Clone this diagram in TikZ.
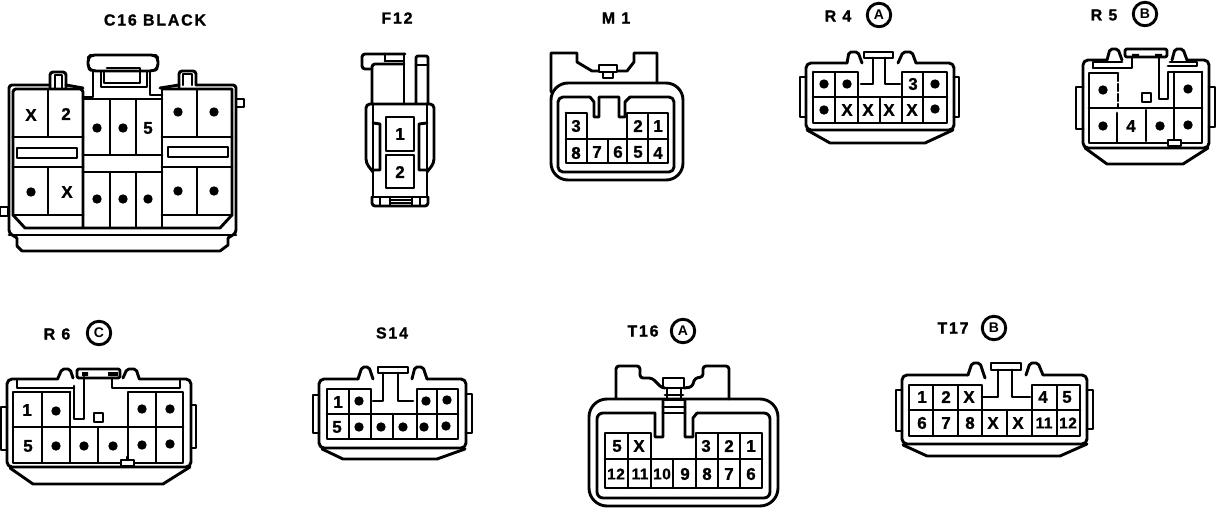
\documentclass[tikz,border=0pt]{standalone}
\usepackage{fontspec}
\setmainfont{Liberation Sans}
\newfontfamily\pinfont[LetterSpace=3,FakeBold=1]{Liberation Sans Bold}
\newfontfamily\titlefont[LetterSpace=11,FakeBold=1.2]{Liberation Sans Bold}
\newcounter{tx}
\tikzset{
  ln/.style={line width=2.9pt,line join=round,line cap=round,black},
  thin ln/.style={line width=2.2pt,line join=round,line cap=round,black},
  pintext/.style={inner sep=0pt,font=\pinfont\fontsize{17}{17}\selectfont},
  pinsmall/.style={inner sep=0pt,font=\pinfont\fontsize{15.5}{15.5}\selectfont},
  titletext/.style={inner sep=0pt,font=\titlefont\fontsize{16}{16}\selectfont},
  badge/.style={circle,draw,line width=2.9pt,minimum size=23.5pt,inner sep=0pt,font=\fontsize{14}{14}\bfseries\selectfont}
}
\newcommand{\pins}[1]{\foreach \x/\y/\t in {#1}{\stepcounter{tx}\node[pintext] (p\thetx) at (\x,\y) {\t};}}
\newcommand{\tpins}[1]{\foreach \x/\y/\t in {#1}{\stepcounter{tx}\node[pinsmall] (p\thetx) at (\x,\y) {\t};}}
\newcommand{\pts}[1]{\foreach \x/\y in {#1}{\fill (\x,\y) circle (4.7pt);}}
\begin{document}
\begin{tikzpicture}[x=1pt,y=-1pt]
\useasboundingbox (0,0) rectangle (1216,508);
\begin{scope}[ln]
% ---------- C16
\node[titletext] (tc16) at (155,20) {C16 BLACK};
\draw[rounded corners=3pt] (17,238) -- (9,233) -- (9,85) -- (50,85);
\draw[rounded corners=3pt] (50,88) -- (50,72) -- (66,72) -- (66,88);
\draw[thin ln] (55,88) -- (55,75) -- (62,75) -- (62,88);
\draw (66,85) -- (83,88);
\draw[rounded corners=3pt] (13,137) -- (13,89) -- (83,89) -- (83,227);
\draw (13,137) -- (13,215) -- (25,228) -- (220,228) -- (232,215) -- (232,89) -- (162,89);
\draw (162,89) -- (162,227);
\draw (160,88) -- (179,85);
\draw[rounded corners=3pt] (179,88) -- (179,71) -- (196,71) -- (196,85);
\draw[thin ln] (183,85) -- (183,74) -- (192,74) -- (192,85);
\draw[rounded corners=3pt] (196,85) -- (236,85) -- (236,233) -- (228,238);
\draw (13,137) -- (83,137) (13,167) -- (83,167) (13,215) -- (83,215);
\draw (162,137) -- (232,137) (162,167) -- (232,167) (162,215) -- (232,215);
\draw (17,148) rectangle (77,158);
\draw (168,147) rectangle (228,157);
\draw[thin ln] (48,89) -- (48,137) (48,167) -- (48,215) (197,89) -- (197,137) (197,167) -- (197,215);
\draw (83,99) -- (162,99) (83,155) -- (162,155) (83,172) -- (162,172);
\draw[thin ln] (110,99) -- (110,155) (136,99) -- (136,155) (110,172) -- (110,227) (136,172) -- (136,227);
\draw (9,235) -- (236,235);
\draw (17,238) -- (17,246) -- (22,251) -- (220,251) -- (228,245) -- (228,238);
\draw[rounded corners=4pt] (92,71) -- (88,68) -- (88,58) -- (91,55) -- (155,55) -- (158,58) -- (158,68) -- (154,71) -- cycle;
\draw (93,71) -- (93,97) -- (83,97);
\draw (150,71) -- (150,95) -- (162,95);
\draw (104,71) -- (104,83) -- (140,83) -- (140,68) -- (107,68);
\draw[thin ln] (101,71) -- (101,87) -- (147,87) -- (147,71);
\draw (236,99) rectangle (244,107);
\draw (0,207) rectangle (8,216);
\pts{97/128,123/128,178/112,214/112,31/192,97/199,123/199,148/199,178/191,214/191}
\pins{31/115/X,66/114/2,148/128/5,67/192/X}
% ---------- F12
\node[titletext] (tf12) at (397,18) {F12};
\draw[rounded corners=3pt] (405,54) -- (362,54) -- (362,69) -- (372,69);
\draw (385,61) -- (403,61);
\draw (385,54) -- (385,61);
\draw[rounded corners=3pt] (372,104) -- (372,64) -- (404,64);
\draw (404,54) -- (404,104);
\draw[rounded corners=2pt] (416,104) -- (416,56) -- (428,56) -- (428,104);
\draw (416,65) -- (428,65);
\draw[rounded corners=4pt] (373,172) -- (366,163) -- (366,104) -- (434,104) -- (434,163) -- (427,172);
\draw (373,104) -- (373,197);
\draw (427,104) -- (427,197);
\draw (373,123) -- (380,124) -- (380,170) -- (373,170);
\draw (427,123) -- (419,124) -- (419,170) -- (427,170);
\draw (386,117) rectangle (414,151);
\draw (386,155) rectangle (414,188);
\draw (372,197) -- (428,197);
\draw[rounded corners=3pt] (372,197) -- (372,206) -- (428,206) -- (428,197);
\draw[thin ln] (380,197) -- (380,206) (390,197) -- (390,206) (412,197) -- (412,206) (420,197) -- (420,206) (390,200) -- (412,200) (390,203) -- (412,203);
\pins{400/134/1,400/172/2}
% ---------- M1
\node[titletext] (tm1) at (616,18) {M 1};
\draw[rounded corners=17pt] (551,83) rectangle (683,180);
\draw (551,92) -- (551,53) -- (577,53) -- (577,62) -- (592,71) -- (599,71);
\draw (618,71) -- (627,71) -- (634,62) -- (634,53) -- (657,53) -- (657,83);
\draw (599,65) rectangle (617,72);
\draw[thin ln] (603,72) -- (603,78) -- (613,78) -- (613,72);
\draw[rounded corners=5pt] (590,97) -- (558,97) -- (558,172) -- (674,172) -- (674,97) -- (630,97);
\draw (590,97) -- (594,102) -- (594,117) -- (599,117) -- (599,97) -- (619,97) -- (619,117) -- (625,117) -- (625,102) -- (630,97);
\draw (566,113) -- (587,113) -- (587,139);
\draw (566,113) -- (566,163) -- (668,163) -- (668,113) -- (627,113) -- (627,163);
\draw (566,139) -- (668,139);
\draw[thin ln] (648,113) -- (648,163) (587,139) -- (587,163) (608,139) -- (608,163);
\pins{576/126/3,638/126/2,658/126/1,576/153/8,597/152/7,618/152/6,638/152/5,658/153/4}
% ---------- R4
\node[titletext,anchor=center] (tr4a) at (838,16) {R 4};
\node[badge] (br4) at (879,15) {A};
\draw[rounded corners=5pt] (847,63) -- (806,63) -- (806,130) -- (954,130) -- (954,63) -- (916,63);
\draw (807,130) -- (830,143) -- (925,143) -- (953,130);
\draw (806,77) -- (800,77) -- (800,117) -- (806,117);
\draw (954,77) -- (959,77) -- (959,117) -- (954,117);
\draw[rounded corners=2pt] (847,63) -- (849,52) -- (858,52) -- (862,63);
\draw[rounded corners=2pt] (898,63) -- (903,52) -- (912,52) -- (916,63);
\draw (864,52) rectangle (893,58);
\draw (861,84) -- (873,84) -- (873,58) (885,58) -- (885,84) -- (900,84);
\draw (813,72) -- (858,72) -- (858,97) (902,97) -- (902,72) -- (947,72) -- (947,123) -- (813,123) -- (813,72);
\draw (813,97) -- (947,97);
\draw[thin ln] (835,72) -- (835,123) (923,72) -- (923,123) (858,97) -- (858,123) (880,97) -- (880,123) (902,97) -- (902,123);
\pts{824/84,847/84,935/84,824/110,935/109}
\pins{913/84/3,847/110/X,868/110/X,889/110/X,912/110/X}
% ---------- R5
\node[titletext] (tr5a) at (1104,15) {R 5};
\node[badge] (br5) at (1145,14) {B};
\draw[rounded corners=5pt] (1107,60) -- (1083,60) -- (1083,148) -- (1209,148) -- (1209,60) -- (1187,60);
\draw (1085,148) -- (1107,164) -- (1183,164) -- (1208,148);
\draw (1083,87) -- (1076,87) -- (1076,129) -- (1083,129);
\draw (1209,87) -- (1215,87) -- (1215,127) -- (1209,127);
\draw[rounded corners=2pt] (1107,60) -- (1110,49) -- (1118,49) -- (1122,60);
\draw[rounded corners=2pt] (1172,60) -- (1175,49) -- (1183,49) -- (1187,60);
\draw[rounded corners=2pt] (1125,49) rectangle (1167,57);
\fill (1132,54) rectangle (1139,58) (1155,54) rectangle (1162,58);
\draw (1093,68) -- (1093,62) -- (1122,62) (1093,68) -- (1132,68) -- (1132,57);
\draw (1170,62) -- (1197,62) -- (1197,66) -- (1168,66);
\draw (1159,57) -- (1159,99) -- (1168,99) -- (1168,72) -- (1202,72);
\draw (1118,73) -- (1089,73) -- (1089,143) -- (1202,143) -- (1202,72);
\draw (1089,108) -- (1202,108);
\draw (1174,72) -- (1174,142);
\draw[thin ln,dash pattern=on 7pt off 3pt] (1118,74) -- (1118,107);
\draw (1117,113) -- (1117,142);
\draw[thin ln] (1146,110) -- (1146,141);
\draw (1142,93) rectangle (1151,102);
\draw (1174,138) -- (1174,140);
\draw[fill=white] (1168,140) rectangle (1181,146);
\pts{1103/90,1188/89,1103/126,1160/126,1188/125}
\pins{1131/126/4}
% ---------- R6
\node[titletext] (tr6a) at (57,334) {R 6};
\node[badge] (br6) at (99,333) {C};
\draw[rounded corners=5pt] (58,379) -- (7,379) -- (7,467) -- (191,467) -- (191,379) -- (139,379);
\draw (10,468) -- (33,484) -- (163,484) -- (190,467);
\draw (7,407) -- (1,407) -- (1,450) -- (7,450);
\draw (191,405) -- (196,405) -- (196,448) -- (191,448);
\draw[rounded corners=2pt] (58,378) -- (62,369) -- (70,369) -- (73,378);
\draw[rounded corners=2pt] (123,378) -- (127,369) -- (136,369) -- (139,378);
\draw[rounded corners=2pt] (77,369) rectangle (120,378);
\fill (82,372) rectangle (88,376) (108,372) rectangle (118,376);
\draw (74,386) -- (74,419) -- (84,419) -- (84,377);
\draw (17,380) -- (17,388) -- (74,388);
\draw (112,378) -- (112,388) -- (180,388) -- (180,380);
\draw (70,392) -- (13,392) -- (13,463) -- (183,463) -- (183,392) -- (128,392) -- (128,463);
\draw (13,427) -- (183,427);
\draw (70,392) -- (70,427);
\draw[thin ln] (42,392) -- (42,463) (156,392) -- (156,463) (70,427) -- (70,463) (98,427) -- (98,463);
\draw (94,413) rectangle (103,422);
\draw (127,457) -- (127,460);
\draw[fill=white] (121,460) rectangle (134,466);
\pts{56/411,142/409,170/409,56/446,84/446,113/446,142/445,170/444}
\pins{27/410/1,28/446/5}
% ---------- S14
\node[titletext] (ts14) at (392,333) {S14};
\draw[rounded corners=5pt] (358,379) -- (319,379) -- (319,448) -- (466,448) -- (466,379) -- (427,379);
\draw (322,449) -- (343,459) -- (437,459) -- (465,449);
\draw (319,395) -- (313,395) -- (313,433) -- (319,433);
\draw (466,394) -- (472,394) -- (472,433) -- (466,433);
\draw[rounded corners=2pt] (358,379) -- (362,367) -- (369,367) -- (373,379);
\draw[rounded corners=2pt] (412,379) -- (415,367) -- (423,367) -- (427,379);
\draw (378,367) rectangle (408,373);
\draw (373,401) -- (383,401) -- (383,373) (398,373) -- (398,401) -- (413,401);
\draw (371,414) -- (371,389) -- (327,389) -- (327,439) -- (458,439) -- (458,389) -- (417,389) -- (417,414);
\draw (327,414) -- (458,414);
\draw[thin ln] (349,389) -- (349,439) (437,389) -- (437,439) (371,414) -- (371,439) (393,414) -- (393,439) (417,414) -- (417,439);
\pts{359/401,426/401,447/400,359/427,381/427,403/427,424/427,446/426}
\pins{338/402/1,337/427/5}
% ---------- T16
\node[titletext] (tt16) at (643,331) {T16};
\node[badge] (bt16) at (683,331) {A};
\draw[rounded corners=18pt] (589,399) rectangle (778,506);
\draw[rounded corners=3pt] (616,399) -- (616,366) -- (640,366) -- (640,378) -- (652,378) -- (662,388) -- (665,388);
\draw (663,378) rectangle (684,388);
\draw[rounded corners=3pt] (684,388) -- (692,387) -- (695,378) -- (703,377) -- (703,366) -- (729,366) -- (729,399);
\draw (667,388) -- (667,400) (681,388) -- (681,400) (665,395) -- (683,395);
\draw (663,400) -- (685,400) (663,407) -- (685,407) (663,413) -- (685,413);
\draw[rounded corners=6pt] (655,413) -- (597,413) -- (597,498) -- (770,498) -- (770,413) -- (697,413);
\draw (655,413) -- (655,437) -- (663,437) -- (663,400) (685,400) -- (685,437) -- (693,437) -- (693,418) -- (697,413);
\draw (651,459) -- (651,433) -- (605,433) -- (605,488) -- (762,488) -- (762,433) -- (696,433) -- (696,459);
\draw (605,459) -- (762,459);
\draw[thin ln] (628,433) -- (628,488) (718,433) -- (718,488) (740,433) -- (740,488) (651,459) -- (651,488) (673,459) -- (673,488) (696,459) -- (696,488);
\pins{617/446/5,639/446/X,706/446/3,729/446/2,751/446/1,685/474/9,707/474/8,729/474/7,751/474/6}
\tpins{616/474/12,640/474/11,662/474/10}
% ---------- T17
\node[titletext] (tt17) at (953,328) {T17};
\node[badge] (bt17) at (994,328) {B};
\draw[rounded corners=5pt] (968,375) -- (902,375) -- (902,444) -- (1087,444) -- (1087,375) -- (1043,375);
\draw (903,445) -- (927,456) -- (1060,456) -- (1087,444);
\draw (902,390) -- (896,390) -- (896,431) -- (902,431);
\draw (1087,390) -- (1093,390) -- (1093,429) -- (1087,429);
\draw[rounded corners=2pt] (968,375) -- (972,363) -- (980,363) -- (985,378);
\draw[rounded corners=2pt] (1026,375) -- (1030,363) -- (1038,363) -- (1043,375);
\draw (991,363) rectangle (1021,370);
\draw (982,397) -- (998,397) -- (998,370) (1012,370) -- (1012,397) -- (1030,397);
\draw (982,410) -- (982,385) -- (909,385) -- (909,436) -- (1080,436) -- (1080,385) -- (1032,385) -- (1032,410);
\draw (909,410) -- (1080,410);
\draw[thin ln] (933,385) -- (933,436) (958,385) -- (958,436) (1057,385) -- (1057,436) (982,410) -- (982,436) (1007,410) -- (1007,436) (1032,410) -- (1032,436);
\pins{922/397/1,946/397/2,969/397/X,1043/397/4,1067/397/5,922/423/6,946/423/7,970/423/8,993/423/X,1018/423/X}
\tpins{1044/423/11,1068/423/12}
\end{scope}
\end{tikzpicture}
\end{document}
